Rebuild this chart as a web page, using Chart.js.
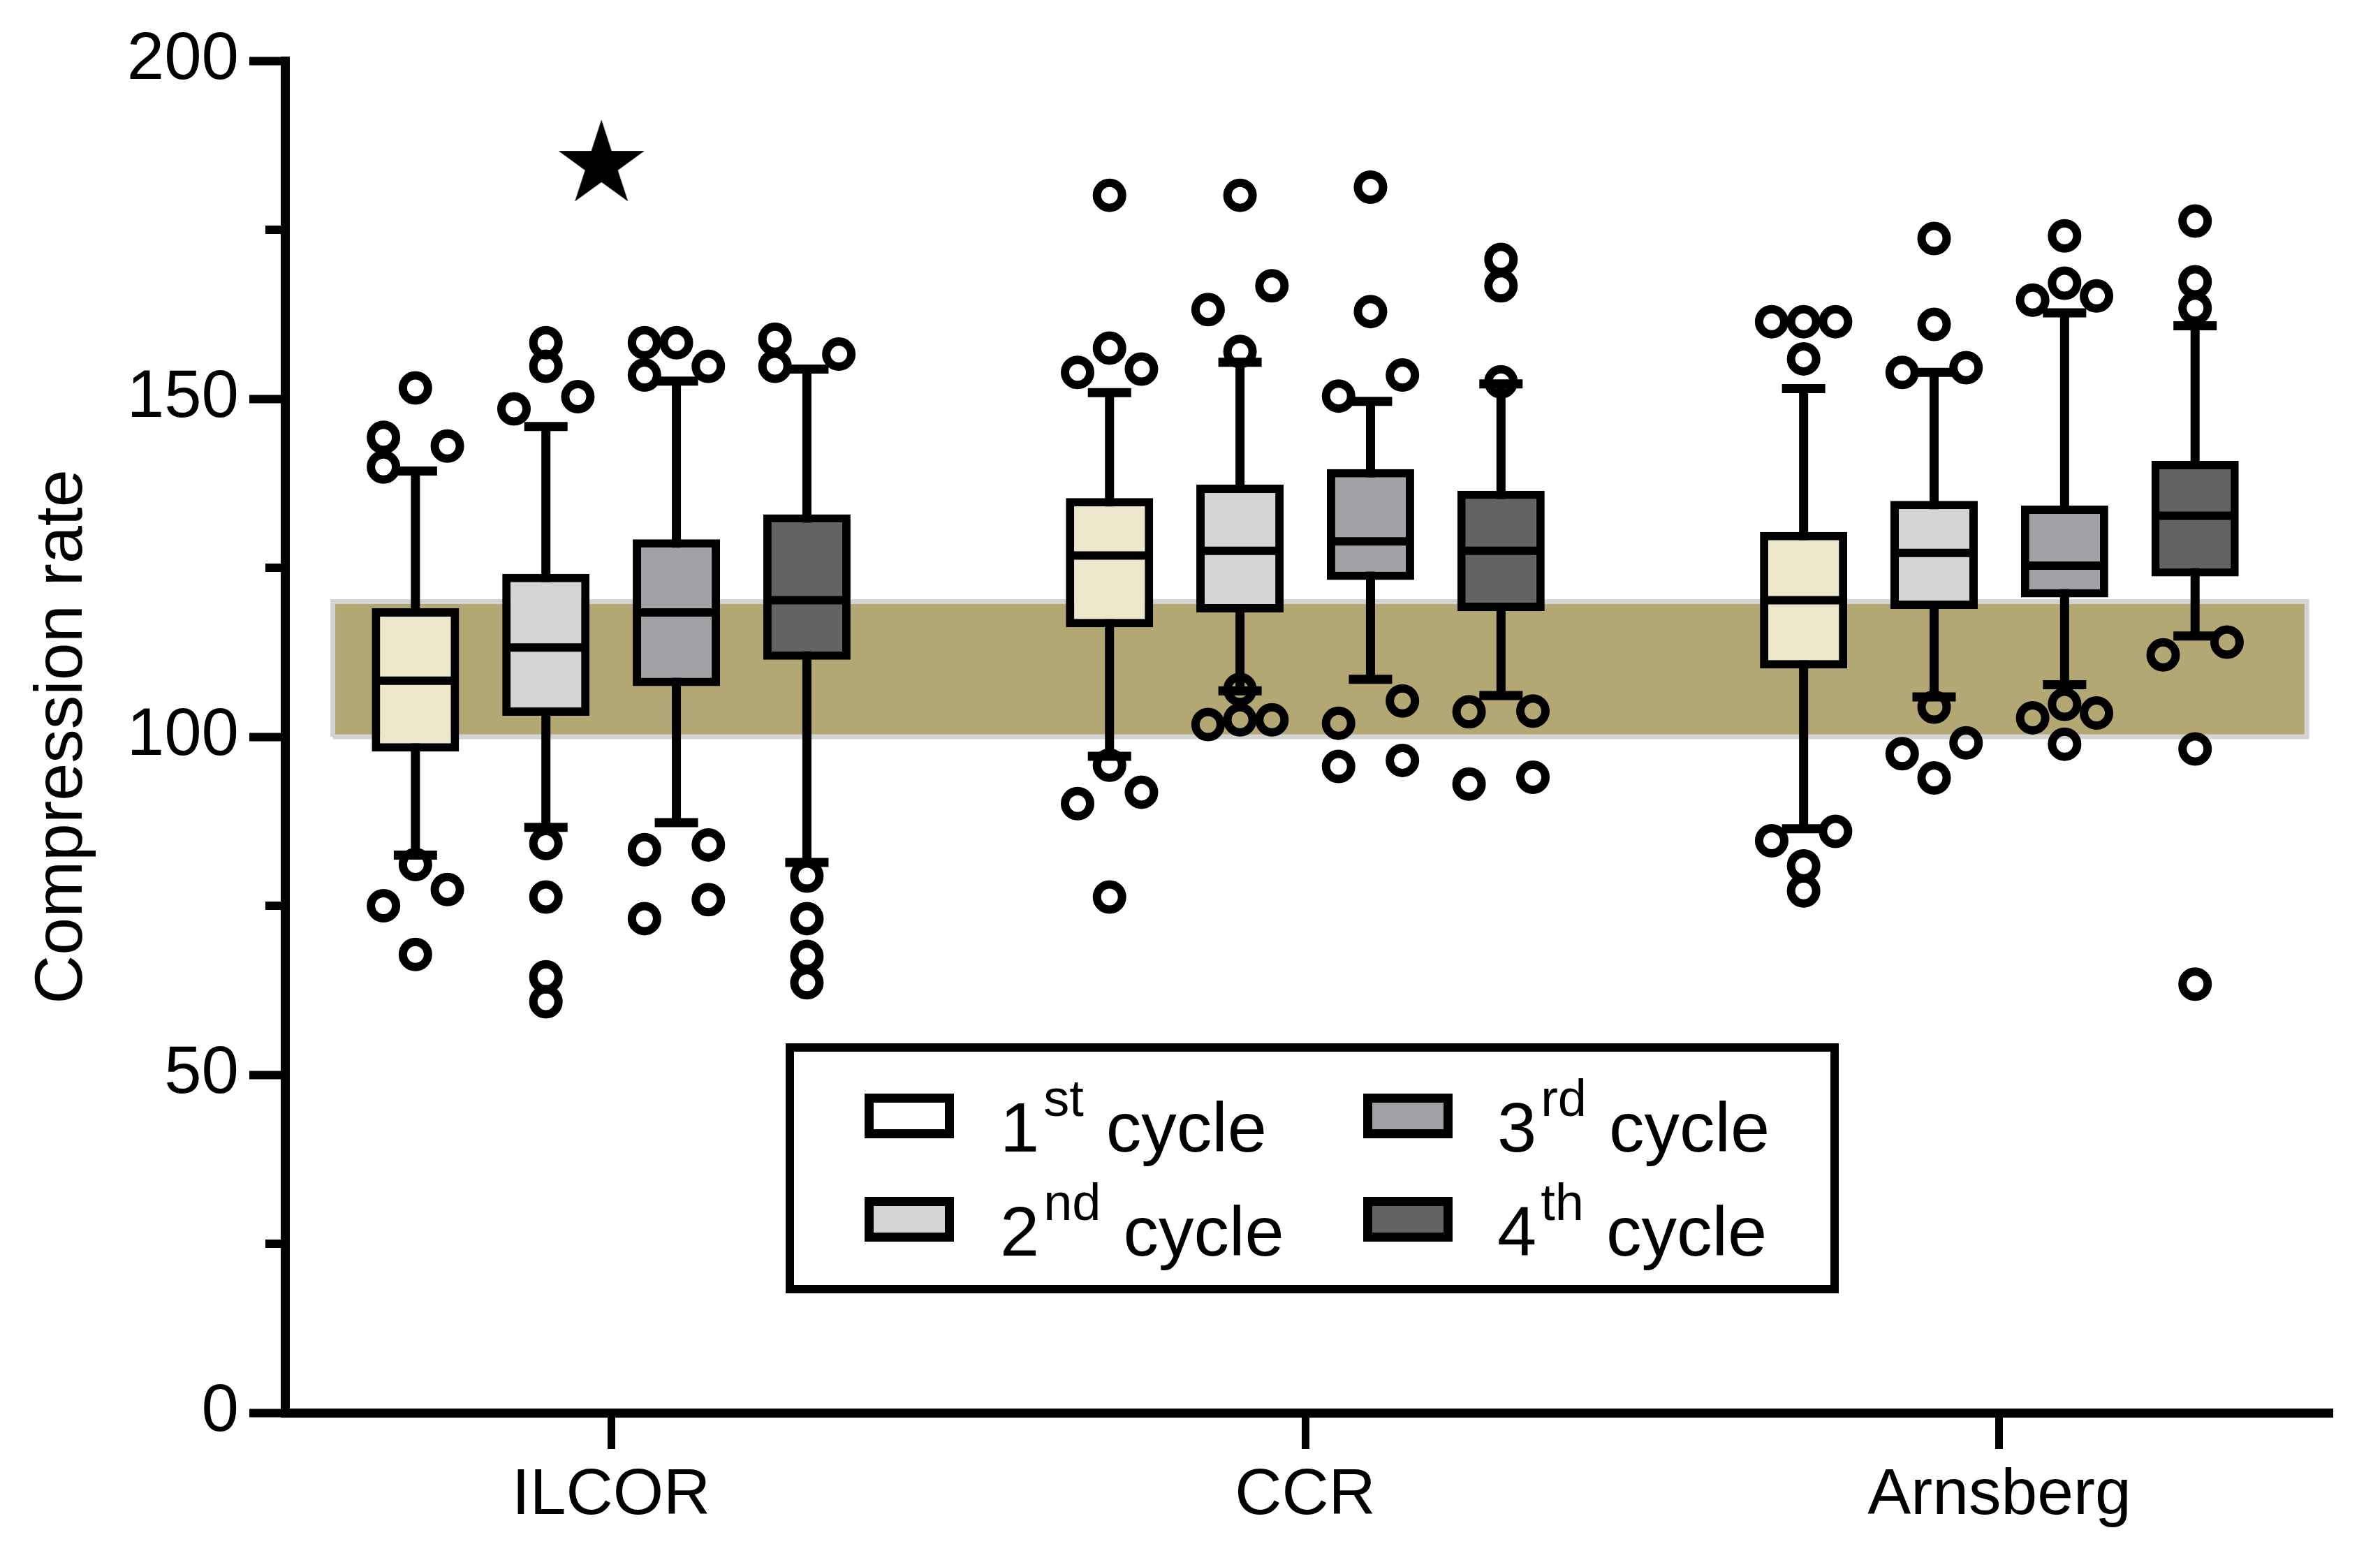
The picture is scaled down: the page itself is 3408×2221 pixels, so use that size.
<!DOCTYPE html>
<html>
<head>
<meta charset="utf-8">
<script src="https://cdn.jsdelivr.net/npm/chart.js@4.4.1/dist/chart.umd.min.js"></script>
<style>
    html, body { margin: 0; padding: 0; background: #fff; }
    #wrap { position: relative; width: 3408px; height: 2221px; }
    #legend { position: absolute; left: 1125px; top: 1494px; width: 1508px; height: 358px;
              border: 12px solid #000; box-sizing: border-box; background: #fff; }
    .sw { position: absolute; width: 128px; height: 64px; border: 13px solid #000; box-sizing: border-box; }
    .lt { position: absolute; font-family: 'Liberation Sans', Arial, sans-serif; font-size: 101px;
          line-height: 1; color: #000; white-space: nowrap; }
    .lt .sup { font-size: 74px; vertical-align: 51px; line-height: 0; margin-left: 6px; margin-right: 4px; }
</style>
</head>
<body>
<div id="wrap">
    <canvas id="chart"></canvas>
    <div id="legend"></div>
</div>
<script>
// ===== Data =====
const groups = ['ILCOR', 'CCR', 'Arnsberg'];
const cycleNum = ['1', '2', '3', '4'];
const cycleSup = ['st', 'nd', 'rd', 'th'];
const cycles = cycleNum.map((n, i) => n + cycleSup[i] + ' cycle');

// [cycle][group]
const whiskerLow  = [[82.5, 97.1, 86.4], [86.6, 106.8, 105.9], [87.3, 108.5, 107.7], [81.4, 106.1, 114.9]];
const q1          = [[97.8, 116.2, 110.1], [103.1, 118.4, 118.9], [107.5, 123.2, 120.6], [111.4, 118.6, 123.7]];
const median      = [[108.3, 126.8, 120.2], [113.2, 127.5, 127.2], [118.4, 128.9, 125.3], [120.2, 127.5, 132.7]];
const q3          = [[119.0, 135.3, 130.3], [124.1, 137.3, 134.9], [129.2, 139.6, 134.2], [132.9, 136.4, 140.8]];
const whiskerHigh = [[139.3, 150.9, 151.5], [145.9, 155.4, 153.9], [152.6, 149.6, 162.7], [154.4, 152.2, 160.8]];

// outlier values [cycle][group]
const outliers = [
    [[151.6, 144.3, 139.9, 143.0, 81.1, 77.4, 75.0, 67.8],
     [180.1, 157.5, 153.9, 154.4, 95.8, 90.1, 91.8, 76.3],
     [161.4, 161.4, 161.4, 155.9, 84.6, 86.0, 80.9, 77.2]],
    [[158.3, 154.8, 148.5, 150.3, 84.2, 76.3, 64.5, 60.8],
     [180.1, 166.7, 163.2, 157.0, 107.0, 101.8, 102.5, 102.5],
     [173.7, 161.0, 153.9, 154.6, 104.4, 97.5, 99.1, 93.9]],
    [[158.3, 158.3, 153.5, 154.8, 83.3, 84.0, 73.1, 75.9],
     [181.3, 162.9, 150.4, 153.5, 105.3, 102.0, 95.6, 96.5],
     [174.1, 167.1, 164.6, 165.2, 104.8, 102.8, 103.5, 98.9]],
    [[158.8, 154.8, 156.6, 79.4, 73.1, 67.5, 63.6],
     [170.6, 166.7, 152.5, 103.7, 103.8, 93.0, 94.0],
     [176.3, 167.3, 163.4, 112.1, 114.0, 98.2, 63.4]]
];
// which side of the box each outlier sits (-1 left, 0 centre, 1 right), same shape as outliers
const outlierSide = [
    [[0, -1, -1, 1, 0, 1, -1, 0], [0, 0, -1, 1, 0, -1, 1, 0], [-1, 0, 1, 0, -1, 1, 0, 0]],
    [[0, 0, -1, 1, 0, 0, 0, 0], [0, 1, -1, 0, 0, -1, 0, 1], [0, 0, -1, 1, 0, -1, 1, 0]],
    [[-1, 0, -1, 1, -1, 1, -1, 1], [0, 0, -1, 1, 1, -1, -1, 1], [0, 0, -1, 1, 0, -1, 1, 0]],
    [[-1, -1, 1, 0, 0, 0, 0], [0, 0, 0, -1, 1, -1, 1], [0, 0, 0, -1, 1, 0, 0]]
];

const targetRange = [100, 120];        // recommended compression rate band
const significance = [{group: 0, value: 184.6}];
const yTicks = {min: 0, max: 200, step: 50};
const minorTickValues = [25, 75, 125, 175];

// ===== Layout / style =====
const FONT = "'Liberation Sans', Arial, sans-serif";
const boxFill = ['#ece6cb', '#d4d4d4', '#a2a1a6', '#636363'];
const legendFill = ['#ffffff', '#d4d4d4', '#a2a1a6', '#636363'];
const cycleOffset = [-0.282, -0.094, 0.094, 0.282];
const sideStep = 0.046;
const starShift = -0.014;
const bandSpan = [0.599, 3.443];
const xRange = [0.530, 3.480];

const groupX = g => g + 1;
const boxX = (c, g) => groupX(g) + cycleOffset[c];

// ===== Star marker =====
function makeStar(r) {
    const size = Math.ceil(r * 2) + 4;
    const cv = document.createElement('canvas');
    cv.width = cv.height = size;
    const g = cv.getContext('2d');
    g.fillStyle = '#000';
    g.beginPath();
    for (let i = 0; i < 10; i++) {
        const rad = i % 2 ? r * 0.382 : r;
        const a = -Math.PI / 2 + i * Math.PI / 5;
        g.lineTo(size / 2 + rad * Math.cos(a), size / 2 + rad * Math.sin(a));
    }
    g.closePath();
    g.fill();
    return cv;
}

// ===== Datasets =====
const datasets = [];

// target band
datasets.push({
    type: 'line', order: 100,
    data: [
        {x: bandSpan[0], y: targetRange[0]}, {x: bandSpan[0], y: targetRange[1]},
        {x: bandSpan[1], y: targetRange[1]}, {x: bandSpan[1], y: targetRange[0]},
        {x: bandSpan[0], y: targetRange[0]}
    ],
    fill: 'shape', backgroundColor: '#b3a774', borderColor: '#d4d4d4', borderWidth: 7,
    pointRadius: 0, tension: 0
});

cycles.forEach((name, c) => {
    // whisker stems
    datasets.push({
        type: 'bar', order: 50, grouped: false, maxBarThickness: 13,
        backgroundColor: '#000', borderWidth: 0,
        data: groups.map((_, g) => ({x: boxX(c, g), y: [whiskerLow[c][g], whiskerHigh[c][g]]}))
    });
    // whisker caps
    datasets.push({
        type: 'scatter', order: 40,
        pointStyle: 'line', pointRadius: 31, pointBorderWidth: 13, pointBorderColor: '#000',
        data: groups.flatMap((_, g) => [
            {x: boxX(c, g), y: whiskerLow[c][g]}, {x: boxX(c, g), y: whiskerHigh[c][g]}
        ])
    });
    // boxes
    datasets.push({
        type: 'bar', label: name, order: 10, grouped: false, maxBarThickness: 125,
        backgroundColor: boxFill[c], borderColor: '#000', borderWidth: 12, borderSkipped: false,
        data: groups.map((_, g) => ({x: boxX(c, g), y: [q1[c][g], q3[c][g]]}))
    });
    // medians
    datasets.push({
        type: 'scatter', order: 5,
        pointStyle: 'line', pointRadius: 56, pointBorderWidth: 12, pointBorderColor: '#000',
        data: groups.map((_, g) => ({x: boxX(c, g), y: median[c][g]}))
    });
    // outliers
    datasets.push({
        type: 'scatter', order: 1,
        pointStyle: 'circle', pointRadius: 18, pointBorderWidth: 12,
        pointBorderColor: '#000', pointBackgroundColor: 'rgba(0,0,0,0)',
        data: groups.flatMap((_, g) => outliers[c][g].map((v, k) => ({
            x: boxX(c, g) + outlierSide[c][g][k] * sideStep, y: v
        })))
    });
});

// significance star
datasets.push({
    type: 'scatter', order: 0,
    pointStyle: makeStar(64.7), pointRadius: 60,
    data: significance.map(s => ({x: groupX(s.group) + starShift, y: s.value}))
});

// ===== Minor ticks on y =====
const minorTicks = {
    id: 'minorTicks',
    afterDraw(chart) {
        const {ctx, chartArea, scales: {y}} = chart;
        ctx.save();
        ctx.strokeStyle = '#000';
        ctx.lineWidth = 12;
        minorTickValues.forEach(v => {
            const py = y.getPixelForValue(v);
            ctx.beginPath();
            ctx.moveTo(chartArea.left - 28, py);
            ctx.lineTo(chartArea.left, py);
            ctx.stroke();
        });
        ctx.restore();
    }
};

// ===== Chart =====
const wrap = document.getElementById('wrap');
const canvas = document.getElementById('chart');
canvas.style.width = '3408px';
canvas.style.height = '2221px';

new Chart(canvas.getContext('2d'), {
    type: 'bar',
    data: {datasets},
    options: {
        responsive: false,
        animation: false,
        events: [],
        layout: {padding: {top: 87, right: 42, left: 0, bottom: 0}},
        plugins: {legend: {display: false}, tooltip: {enabled: false}},
        scales: {
            x: {
                type: 'linear', min: xRange[0], max: xRange[1], offset: false, bounds: 'data',
                afterBuildTicks: s => { s.ticks = groups.map((_, g) => ({value: groupX(g)})); },
                afterFit: s => { s.height = 2221 - 2023; },
                ticks: {
                    callback: (v, i) => groups[i], autoSkip: false, maxRotation: 0,
                    font: {family: FONT, size: 93}, color: '#000', padding: 12
                },
                grid: {drawOnChartArea: false, offset: false, tickLength: 52, tickWidth: 11, tickColor: '#000'},
                border: {width: 13, color: '#000'}
            },
            y: {
                min: yTicks.min, max: yTicks.max,
                afterFit: s => { s.width = 408; },
                ticks: {stepSize: yTicks.step, font: {family: FONT, size: 96}, color: '#000', padding: 15},
                grid: {drawOnChartArea: false, tickLength: 51, tickWidth: 12, tickColor: '#000'},
                border: {width: 13, color: '#000'},
                title: {
                    display: true, text: 'Compression rate', color: '#000',
                    font: {family: FONT, size: 97}, padding: {top: 32, bottom: 0}
                }
            }
        }
    },
    plugins: [minorTicks]
});

// ===== Legend =====
const swLeft = [1238, 1952];
const swTop = [1566, 1714];
const textLeft = [1432, 2144];
const textBase = [1650, 1799];
cycles.forEach((name, c) => {
    const col = Math.floor(c / 2), row = c % 2;
    const sw = document.createElement('div');
    sw.className = 'sw';
    sw.style.left = swLeft[col] + 'px';
    sw.style.top = swTop[row] + 'px';
    sw.style.background = legendFill[c];
    wrap.appendChild(sw);

    const t = document.createElement('div');
    t.className = 'lt';
    t.style.left = textLeft[col] + 'px';
    t.style.top = (textBase[row] - 86) + 'px';
    t.innerHTML = cycleNum[c] + '<span class="sup">' + cycleSup[c] + '</span> cycle';
    wrap.appendChild(t);
});
</script>
</body>
</html>
